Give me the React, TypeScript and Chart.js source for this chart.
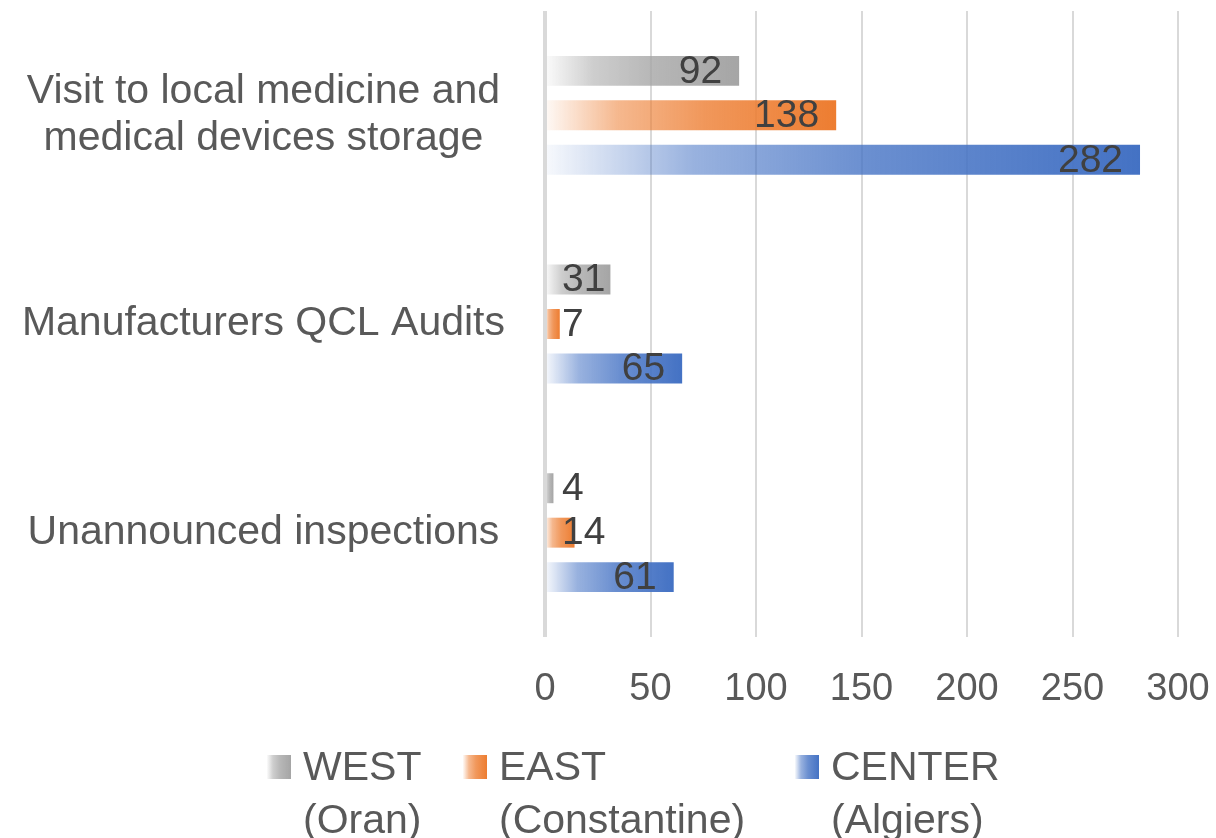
import React, { useEffect, useRef } from "react";
import { Chart, registerables } from "chart.js";

Chart.register(...registerables);

const categories: (string | string[])[] = [
  ["Visit to local medicine and", "medical devices storage"],
  "Manufacturers QCL Audits",
  "Unannounced inspections",
];
const seriesNames: string[][] = [
  ["WEST", "(Oran)"],
  ["EAST", "(Constantine)"],
  ["CENTER", "(Algiers)"],
];
const westValues = [92, 31, 4];
const eastValues = [138, 7, 14];
const centerValues = [282, 65, 61];
const xTicks = [0, 50, 100, 150, 200, 250, 300];
const seriesColors = ["#A5A5A5", "#ED7D31", "#4472C4"];

const FONT = '"Liberation Sans", Arial, sans-serif';

function rgba(hex: string, a: number) {
  const n = parseInt(hex.slice(1), 16);
  return `rgba(${(n >> 16) & 255},${(n >> 8) & 255},${n & 255},${a})`;
}

function makeGradient(ctx: CanvasRenderingContext2D, color: string, x0: number, x1: number) {
  const g = ctx.createLinearGradient(x0, 0, x1, 0);
  g.addColorStop(0, rgba(color, 0.04));
  g.addColorStop(0.25, rgba(color, 0.55));
  g.addColorStop(0.55, rgba(color, 0.8));
  g.addColorStop(1, rgba(color, 1));
  return g;
}

function barFill(color: string) {
  return (c: any) => {
    const chart = c.chart;
    const xs = chart.scales && chart.scales.x;
    if (!xs || c.type !== "data") return color;
    const v = c.parsed ? c.parsed.x : c.raw;
    const x0 = xs.getPixelForValue(0);
    const x1 = xs.getPixelForValue(v);
    if (!isFinite(x0) || !isFinite(x1) || x1 - x0 < 1) return color;
    return makeGradient(chart.ctx, color, x0, x1);
  };
}

const dataLabelPlugin = {
  id: "dataLabels",
  afterDatasetsDraw(chart: any) {
    const ctx = chart.ctx;
    const xs = chart.scales.x;
    const base = xs.getPixelForValue(0);
    ctx.save();
    ctx.font = `39px ${FONT}`;
    ctx.fillStyle = "#404040";
    ctx.textAlign = "left";
    ctx.textBaseline = "middle";
    chart.data.datasets.forEach((ds: any, di: number) => {
      const meta = chart.getDatasetMeta(di);
      meta.data.forEach((bar: any, i: number) => {
        const txt = String(ds.data[i]);
        const w = ctx.measureText(txt).width;
        const end = bar.x;
        const x = Math.max(end - 17 - w, base + 17);
        ctx.fillText(txt, x, bar.y + 1);
      });
    });
    ctx.restore();
  },
};

const legendX = [267, 463, 795];

const legendPlugin = {
  id: "customLegend",
  afterDraw(chart: any) {
    const ctx = chart.ctx;
    ctx.save();
    ctx.font = `41px ${FONT}`;
    ctx.textAlign = "left";
    ctx.textBaseline = "alphabetic";
    seriesNames.forEach((lines, i) => {
      const bx = legendX[i];
      ctx.fillStyle = makeGradient(ctx, seriesColors[i], bx, bx + 24);
      ctx.fillRect(bx, 755, 24, 24);
      ctx.fillStyle = "#595959";
      lines.forEach((l, li) => {
        ctx.fillText(l, bx + 36, 780 + li * 53);
      });
    });
    ctx.restore();
  },
};

export default function App() {
  const ref = useRef<HTMLCanvasElement | null>(null);
  useEffect(() => {
    if (!ref.current) return;
    Chart.defaults.font.family = FONT;
    const chart = new Chart(ref.current, {
      type: "bar",
      data: {
        labels: categories,
        datasets: [
          { label: seriesNames[0].join(" "), data: westValues, backgroundColor: barFill(seriesColors[0]) },
          { label: seriesNames[1].join(" "), data: eastValues, backgroundColor: barFill(seriesColors[1]) },
          { label: seriesNames[2].join(" "), data: centerValues, backgroundColor: barFill(seriesColors[2]) },
        ],
      },
      options: {
        indexAxis: "y",
        responsive: false,
        animation: false,
        events: [],
        datasets: {
          bar: { barPercentage: 0.674, categoryPercentage: 0.639, borderWidth: 0 },
        },
        layout: { padding: { left: 0, right: 38, top: 11, bottom: 125 } },
        plugins: {
          legend: { display: false },
          tooltip: { enabled: false },
          title: { display: false },
        },
        scales: {
          x: {
            type: "linear",
            min: 0,
            max: 300,
            afterBuildTicks: (s: any) => {
              s.ticks = xTicks.map((v) => ({ value: v }));
            },
            afterFit: (s: any) => {
              s.paddingLeft = 0;
              s.paddingRight = 0;
              s.height = 76;
            },
            border: { display: false },
            grid: {
              color: "#D9D9D9",
              lineWidth: (c: any) => (c.tick && c.tick.value === 0 ? 4 : 2),
              drawTicks: false,
            },
            ticks: {
              color: "#595959",
              font: { size: 38, family: FONT },
              padding: 30,
              maxRotation: 0,
            },
          },
          y: {
            type: "category",
            afterFit: (s: any) => {
              s.width = 545;
              s.paddingTop = 0;
              s.paddingBottom = 0;
            },
            border: { display: false },
            grid: { display: false, drawTicks: false },
            ticks: {
              color: "#595959",
              font: { size: 41, family: FONT, lineHeight: 1.15 },
              padding: 40,
              crossAlign: "center",
            },
          },
        },
      },
      plugins: [dataLabelPlugin, legendPlugin],
    } as any);
    return () => chart.destroy();
  }, []);
  return (
    <div style={{ position: "fixed", left: 0, top: 0, width: 1216, height: 838, background: "#fff" }}>
      <canvas ref={ref} width={1216} height={838} style={{ display: "block" }} />
    </div>
  );
}
